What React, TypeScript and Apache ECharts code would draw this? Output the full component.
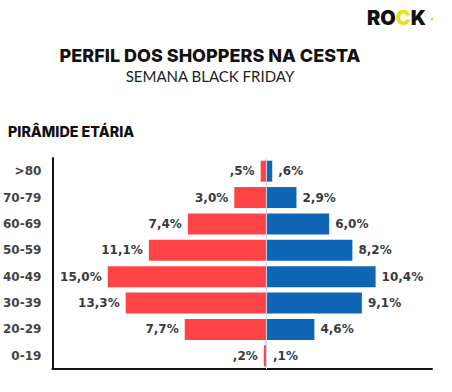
import React, { useEffect, useRef } from "react";
import * as echarts from "echarts";

const categories = [">80", "70-79", "60-69", "50-59", "40-49", "30-39", "20-29", "0-19"];
const femaleValues = [0.5, 3.0, 7.4, 11.1, 15.0, 13.3, 7.7, 0.2];
const maleValues = [0.6, 2.9, 6.0, 8.2, 10.4, 9.1, 4.6, 0.1];

const fmt = (v: number) => Math.abs(v).toFixed(1).replace(".", ",").replace(/^0/, "") + "%";

export default function App() {
  const ref = useRef<HTMLDivElement>(null);
  useEffect(() => {
    const chart = echarts.init(ref.current!, undefined, { renderer: "svg" });
    const labelStyle = {
      show: true,
      fontFamily: "DejaVu Sans",
      fontWeight: "bold" as const,
      fontSize: 12,
      color: "#3a3a3a",
      distance: 6,
      formatter: (p: any) => fmt(p.value),
    };
    chart.setOption({
      animation: false,
      backgroundColor: "#ffffff",
      grid: { left: 52, right: 20, top: 158, bottom: 23 },
      xAxis: {
        type: "value",
        min: -20.25,
        max: 15.75,
        axisLabel: { show: false },
        axisTick: { show: false },
        splitLine: { show: false },
        axisLine: { show: true, lineStyle: { color: "#111", width: 2 } },
      },
      yAxis: {
        type: "category",
        data: categories,
        inverse: true,
        axisTick: { show: false },
        axisLine: { show: true, onZero: false, lineStyle: { color: "#111", width: 2 } },
        axisLabel: {
          fontFamily: "DejaVu Sans",
          fontWeight: "bold",
          fontSize: 12,
          color: "#444",
          margin: 11,
        },
      },
      series: [
        {
          name: "Feminino",
          type: "bar",
          data: femaleValues.map((v) => -v),
          barWidth: 21,
          barGap: "-100%",
          itemStyle: { color: "#FF4346" },
          label: { ...labelStyle, position: "left" },
          markLine: {
            silent: true,
            symbol: "none",
            label: { show: false },
            lineStyle: { color: "#c9d0e2", width: 1, type: "solid" },
            data: [{ xAxis: 0 }],
          },
        },
        {
          name: "Masculino",
          type: "bar",
          data: maleValues,
          barWidth: 21,
          barGap: "-100%",
          itemStyle: { color: "#0F66B6" },
          label: { ...labelStyle, position: "right" },
        },
      ],
      graphic: [
        {
          type: "text",
          left: 367,
          top: 8,
          style: {
            text: "{k|RO}{y|C}{k|K}",
            rich: {
              k: { fontFamily: "Inter", fontWeight: 900, fontSize: 20, fill: "#111" },
              y: { fontFamily: "Inter", fontWeight: 900, fontSize: 20, fill: "#E5E21C" },
            },
          },
        },
        { type: "circle", shape: { cx: 432, cy: 19, r: 1.5 }, style: { fill: "#E5E21C" } },
        {
          type: "text",
          x: 210,
          y: 55,
          style: {
            text: "PERFIL DOS SHOPPERS NA CESTA",
            fontFamily: "Inter",
            fontWeight: 800,
            fontSize: 18,
            fill: "#111",
            align: "center",
            verticalAlign: "middle",
          },
        },
        {
          type: "text",
          x: 210,
          y: 76,
          style: {
            text: "SEMANA BLACK FRIDAY",
            fontFamily: "Lato",
            fontSize: 15,
            fill: "#222",
            align: "center",
            verticalAlign: "middle",
          },
        },
        {
          type: "text",
          x: 8,
          y: 131,
          style: {
            text: "PIRÂMIDE ETÁRIA",
            fontFamily: "Inter",
            fontWeight: 800,
            fontSize: 14.3,
            fill: "#111",
            align: "left",
            verticalAlign: "middle",
          },
        },
      ],
    });
    return () => chart.dispose();
  }, []);
  return <div ref={ref} style={{ width: 452, height: 392, position: "fixed", left: 0, top: 0 }} />;
}
